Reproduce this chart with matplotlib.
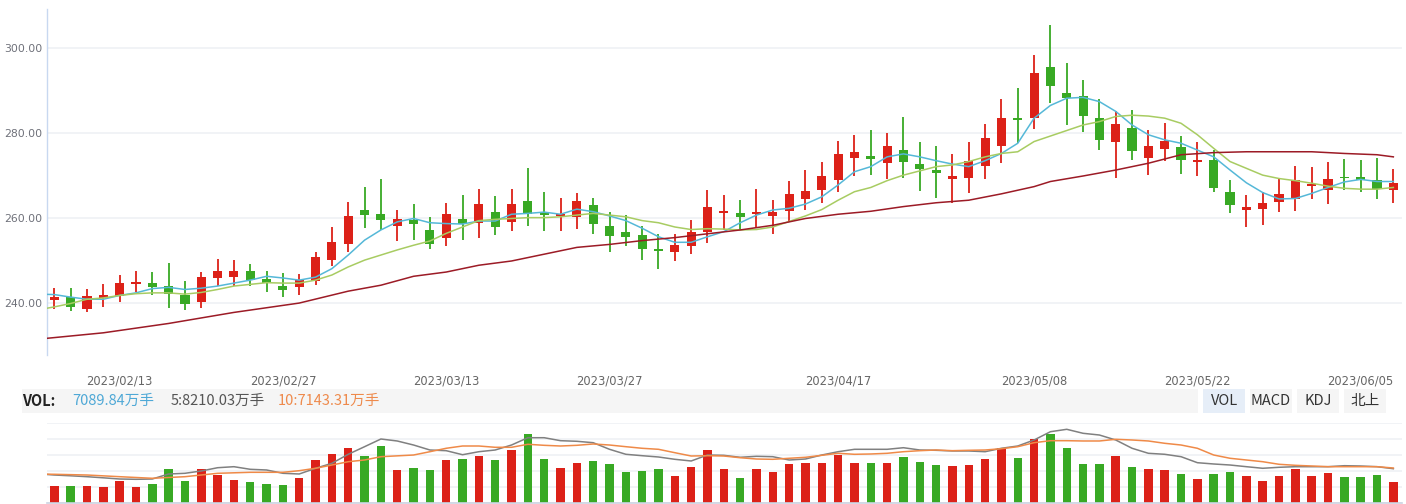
import numpy as np
import matplotlib.pyplot as plt
from matplotlib.patches import Rectangle

W, H = 1406, 504

# x-axis date labels (trading-day index -> label)
tick_idx = [4, 14, 24, 34, 48, 60, 70, 80]
tick_labels = ['2023/02/13', '2023/02/27', '2023/03/13', '2023/03/27',
               '2023/04/17', '2023/05/08', '2023/05/22', '2023/06/05']

# daily candles, 83 sessions
opens = [240.9, 241.5, 238.7, 241.3, 241.8, 244.5, 244.8, 244.1, 242.0, 240.4,
         246.0, 246.3, 247.6, 245.7, 244.1, 243.9, 245.3, 250.3, 254.0, 262.0,
         261.0, 258.2, 259.6, 257.3, 255.4, 259.9, 259.0, 261.5, 259.2, 264.1,
         261.5, 260.6, 260.3, 263.2, 258.2, 256.8, 256.1, 252.8, 252.1, 253.5,
         256.8, 261.3, 261.3, 261.0, 260.6, 261.7, 264.6, 266.7, 269.1, 274.2,
         274.7, 273.1, 276.1, 272.8, 271.4, 269.3, 269.5, 272.4, 277.1, 283.7,
         283.7, 295.7, 289.6, 288.8, 283.7, 278.0, 281.3, 274.2, 276.4, 276.8,
         273.3, 273.8, 266.2, 262.0, 262.2, 263.9, 264.6, 267.6, 266.7, 269.8,
         269.8, 269.1, 266.7]
highs = [243.7, 243.7, 243.4, 244.5, 246.7, 247.6, 247.4, 249.5, 245.2, 247.4,
         250.4, 250.2, 249.2, 247.6, 247.1, 246.9, 252.1, 258.0, 263.9, 267.4,
         269.3, 262.0, 263.4, 260.3, 263.6, 265.5, 266.9, 265.3, 266.9, 271.9,
         266.2, 264.8, 266.0, 264.8, 261.5, 260.8, 258.2, 256.3, 256.3, 259.6,
         266.7, 265.5, 264.3, 266.9, 264.3, 268.8, 271.4, 273.3, 278.2, 279.6,
         280.8, 280.1, 283.9, 278.0, 277.1, 275.2, 278.0, 282.3, 288.1, 290.7,
         298.5, 305.6, 296.6, 292.6, 288.1, 285.3, 285.5, 280.8, 282.5, 279.4,
         278.0, 276.1, 269.0, 265.5, 266.2, 269.5, 272.3, 272.1, 273.3, 274.0,
         273.8, 274.2, 271.6]
lows = [238.6, 238.3, 238.0, 239.2, 240.4, 242.7, 242.0, 239.0, 238.5, 239.0,
        244.0, 244.2, 244.1, 242.7, 241.6, 242.0, 244.4, 248.9, 252.1, 257.7,
        257.3, 254.7, 254.9, 252.8, 253.5, 254.9, 255.4, 256.1, 257.0, 258.2,
        257.0, 257.0, 257.5, 256.3, 252.1, 253.5, 250.2, 248.1, 250.0, 251.6,
        254.2, 257.3, 257.3, 257.7, 256.3, 259.4, 262.0, 263.6, 266.2, 270.0,
        270.2, 269.3, 269.5, 266.5, 264.8, 263.6, 266.0, 269.3, 273.1, 277.7,
        281.1, 287.2, 282.0, 280.4, 276.1, 269.5, 273.8, 270.2, 273.5, 270.5,
        270.0, 266.2, 261.3, 258.0, 258.4, 261.5, 261.7, 264.6, 263.4, 266.7,
        266.2, 264.6, 263.6]
closes = [241.5, 239.2, 241.7, 241.9, 244.8, 245.0, 243.9, 242.3, 239.9, 246.2,
          247.6, 247.6, 245.6, 244.8, 243.2, 245.6, 250.9, 254.4, 260.6, 260.8,
          259.6, 259.9, 258.7, 254.0, 261.0, 258.7, 263.4, 258.0, 263.4, 261.0,
          260.8, 261.0, 264.1, 258.7, 255.9, 255.6, 252.8, 252.3, 253.7, 256.8,
          262.7, 261.7, 260.3, 261.5, 261.5, 265.8, 266.5, 270.0, 275.2, 275.7,
          274.0, 277.1, 273.3, 271.6, 270.7, 270.0, 273.5, 279.0, 283.7, 283.2,
          294.3, 291.2, 288.4, 284.1, 278.5, 282.3, 275.9, 277.1, 278.2, 273.8,
          273.8, 267.2, 263.2, 262.7, 263.6, 265.8, 269.0, 268.1, 269.3, 269.5,
          269.1, 266.9, 268.3]

# volume, 万手
volumes = [5760, 5760, 5760, 5430, 7430, 5430, 6430, 11420, 7430, 11420,
           9420, 7760, 7090, 6430, 6090, 8420, 14420, 16420, 18410, 15750,
           19080, 11090, 11750, 11090, 14420, 14750, 15750, 14420, 17750, 23080,
           14750, 11750, 13420, 14090, 13090, 10420, 10760, 11420, 9090, 12090,
           17750, 11420, 8420, 11420, 10420, 13090, 13420, 13420, 16080, 13420,
           13420, 13420, 15420, 13750, 12750, 12420, 12750, 14750, 18410, 15080,
           21410, 23080, 18410, 13090, 13090, 15750, 12090, 11420, 11090, 9760,
           8090, 9760, 10420, 9090, 7430, 9090, 11420, 9090, 10090, 8760,
           8760, 9420, 7089.84]

# price moving averages (first point is the session before the window)
ma5 = [242.2, 242.1, 241.5, 241.0, 241.0, 241.9, 242.5, 243.5, 243.8, 243.3,
       243.6, 244.1, 244.8, 245.5, 246.4, 246.0, 245.5, 246.2, 248.2, 251.4,
       254.9, 257.3, 259.2, 260.0, 259.0, 258.8, 258.7, 259.4, 259.4, 261.0,
       261.2, 261.5, 261.0, 262.2, 261.6, 260.6, 259.5, 257.7, 255.7, 254.4,
       254.4, 255.7, 256.9, 259.0, 260.8, 262.0, 262.4, 263.4, 265.1, 267.9,
       271.0, 272.2, 274.5, 275.2, 274.5, 273.6, 272.8, 272.2, 273.6, 275.3,
       277.7, 283.6, 286.6, 288.3, 288.5, 287.5, 285.2, 282.0, 279.7, 278.5,
       277.7, 276.1, 274.5, 271.4, 268.4, 266.1, 264.6, 264.7, 265.9, 267.3,
       268.6, 269.2, 268.7, 268.7]
ma10 = [238.5, 239.2, 240.0, 241.0, 241.3, 241.9, 242.3, 242.5, 242.5, 242.2,
        242.6, 243.3, 244.1, 244.5, 244.9, 244.8, 244.8, 245.5, 246.7, 248.6,
        250.2, 251.4, 252.6, 253.7, 254.7, 256.5, 258.0, 259.5, 259.8, 260.0,
        260.2, 260.2, 260.4, 260.8, 261.2, 260.8, 260.4, 259.5, 259.0, 258.0,
        257.4, 257.6, 257.5, 257.3, 257.4, 258.0, 259.3, 260.6, 262.1, 264.3,
        266.3, 267.3, 268.9, 270.2, 271.2, 272.2, 272.6, 273.4, 274.5, 275.3,
        275.7, 278.1, 279.4, 280.7, 282.0, 282.8, 284.0, 284.3, 284.1, 283.6,
        282.4, 279.7, 276.5, 273.4, 271.8, 270.2, 269.4, 268.9, 268.3, 267.6,
        267.1, 266.9, 266.9, 267.3]
ma60_idx = [-1, 3, 7, 11, 15, 18, 20, 22, 24, 26, 28, 30, 32, 34, 36, 38, 40,
            42, 44, 46, 48, 50, 52, 54, 56, 58, 60, 61, 63, 65, 67, 69, 71, 73,
            75, 77, 79, 81, 82]
ma60 = [231.6, 233.1, 235.3, 237.9, 240.1, 242.9, 244.3, 246.4, 247.4, 249.0,
        250.0, 251.6, 253.2, 253.9, 254.8, 255.5, 256.4, 257.3, 258.4, 260.0,
        261.0, 261.7, 262.8, 263.7, 264.3, 265.8, 267.5, 268.7, 270.0, 271.4,
        273.0, 275.0, 275.5, 275.7, 275.7, 275.7, 275.3, 275.0, 274.5]

# volume moving averages
vol_ma5 = [9820, 9420, 9160, 8860, 8490, 8090, 7990, 8090, 9760, 9990,
           10760, 11850, 12190, 11320, 11090, 9990, 9760, 11660, 13320, 16320,
           18850, 21410, 20750, 19410, 17750, 17520, 16180, 17180, 17750, 19410,
           21840, 21840, 20850, 20650, 20180, 17980, 16320, 15850, 15420, 14650,
           14090, 16080, 15980, 15320, 15650, 15520, 14420, 14750, 16080, 17180,
           17980, 17980, 17980, 18510, 17750, 17650, 17420, 17420, 17180, 18320,
           19080, 21080, 23840, 24640, 23310, 22740, 21080, 18320, 16650, 16320,
           15520, 13520, 13090, 12750, 12190, 11660, 11990, 12190, 12190, 12190,
           12520, 12420, 12190, 11520]
vol_ma10_idx = [-1, 0, 2, 4, 6, 8, 10, 12, 14, 15, 16, 17, 18, 19, 20, 22, 23,
                24, 25, 26, 27, 28, 29, 30, 31, 32, 33, 34, 35, 36, 37, 38, 39,
                40, 41, 42, 43, 44, 45, 46, 47, 48, 49, 50, 51, 52, 53, 54, 55,
                56, 57, 58, 59, 60, 61, 62, 63, 64, 65, 66, 67, 68, 69, 70, 71,
                72, 73, 74, 75, 76, 77, 78, 79, 80, 81, 82]
vol_ma10 = [9720, 9660, 9420, 8860, 8330, 8860, 9990, 10320, 10320, 10860,
            11660, 12750, 13850, 14420, 15520, 16080, 17180, 18320, 19080, 19080,
            18650, 18650, 19650, 19310, 19080, 19310, 19750, 19410, 18850, 18320,
            17980, 16850, 15750, 15850, 15750, 15180, 14750, 14650, 14990, 15320,
            15980, 16650, 16320, 16420, 16650, 17180, 17520, 17750, 17520, 17650,
            17750, 18180, 18850, 20180, 20850, 20850, 20750, 20750, 21310, 21080,
            20750, 19980, 19410, 18320, 16080, 14990, 14420, 13850, 12990, 12650,
            12420, 12190, 12190, 12190, 12190, 11750]

RED = '#dc2118'
GREEN = '#38a924'


def fx(px):
    return px / W


def fy(py):
    return 1 - py / H


x = np.arange(len(opens))
o = np.array(opens)
c = np.array(closes)
cols = [RED if cc >= oo else GREEN for oo, cc in zip(o, c)]
x_ma = np.arange(-1, len(opens))

fig = plt.figure(figsize=(W / 100, H / 100), dpi=100)
xlim = (-0.465, 82.53)

# ---- price panel
ax = fig.add_axes([fx(46.7), fy(355), fx(1402 - 46.7), (355 - 9) / H])
ax.set_xlim(*xlim)
ax.set_ylim(227.88, 309.29)
ax.vlines(x, lows, highs, colors=cols, linewidth=1.3, zorder=2)
ax.bar(x, np.maximum(np.abs(c - o), 0.3), bottom=np.minimum(o, c), width=0.56,
       color=cols, zorder=3)
ax.plot(x_ma, ma5, color='#55b8d8', lw=1.1, zorder=4)
ax.plot(x_ma, ma10, color='#a8cc62', lw=1.1, zorder=4)
ax.plot(ma60_idx, ma60, color='#9c1b26', lw=1.1, zorder=4)

for s in ['top', 'right', 'bottom']:
    ax.spines[s].set_visible(False)
ax.spines['left'].set_color('#c8d8f0')
ax.spines['left'].set_linewidth(1.0)
ax.set_yticks([240, 260, 280, 300])
ax.set_yticklabels(['%.2f' % v for v in [240, 260, 280, 300]])
ax.tick_params(axis='y', length=0, pad=3, labelsize=7.8, labelcolor='#6e7079')
ax.set_xticks(tick_idx)
ax.set_xticklabels(tick_labels)
ax.tick_params(axis='x', length=0, pad=14, labelsize=8.3, labelcolor='#666666')
ax.grid(axis='y', color='#f1f3f6', lw=1.4, zorder=0)
ax.set_axisbelow(True)

# ---- legend row
fig.add_artist(Rectangle((fx(21.7), fy(412.7)), fx(1198 - 21.7), (412.7 - 389.3) / H,
                         transform=fig.transFigure, color='#f5f5f5', lw=0))
cjk = ['Noto Sans CJK SC', 'DejaVu Sans']
ty = fy(401)
fig.text(fx(22.5), ty, 'VOL:', fontsize=10.5, fontweight='bold', color='#222222',
         family=cjk, va='center')
fig.text(fx(72.7), ty, '7089.84万手', fontsize=10.5, color='#4ea8d6', family=cjk, va='center')
fig.text(fx(171), ty, '5:8210.03万手', fontsize=10.5, color='#555555', family=cjk, va='center')
fig.text(fx(278), ty, '10:7143.31万手', fontsize=10.5, color='#ee8a4c', family=cjk, va='center')

buttons = [('VOL', 1203.3, 1245, '#e6eef8'), ('MACD', 1250, 1292, '#f5f5f5'),
           ('KDJ', 1297, 1339, '#f5f5f5'), ('北上', 1344, 1386, '#f5f5f5')]
for name, x0, x1, bg in buttons:
    fig.add_artist(Rectangle((fx(x0), fy(412.7)), fx(x1 - x0), (412.7 - 389.3) / H,
                             transform=fig.transFigure, color=bg, lw=0))
    fig.text(fx((x0 + x1) / 2), ty, name, fontsize=10.5, color='#333333', family=cjk,
             ha='center', va='center')

# ---- volume panel
vtop = 26640
ax2 = fig.add_axes([fx(46.7), fy(503.3), fx(1402 - 46.7), 80 / H])
ax2.set_xlim(*xlim)
ax2.set_ylim(0, vtop)
ax2.bar(x, volumes, width=0.52, color=cols, zorder=2)
ax2.plot(x_ma, vol_ma5, color='#808080', lw=1.1, zorder=3)
ax2.plot(vol_ma10_idx, vol_ma10, color='#ef8a48', lw=1.1, zorder=3)
for s in ['top', 'right', 'left']:
    ax2.spines[s].set_visible(False)
ax2.spines['bottom'].set_color('#ccd3e2')
ax2.spines['bottom'].set_linewidth(1.2)
ax2.set_yticks(np.linspace(0, vtop, 6))
ax2.set_xticks([])
ax2.tick_params(axis='y', length=0, labelleft=False)
ax2.grid(axis='y', color='#f1f3f6', lw=1.4, zorder=0)
ax2.set_axisbelow(True)

fig.savefig('out.png', dpi=100)
